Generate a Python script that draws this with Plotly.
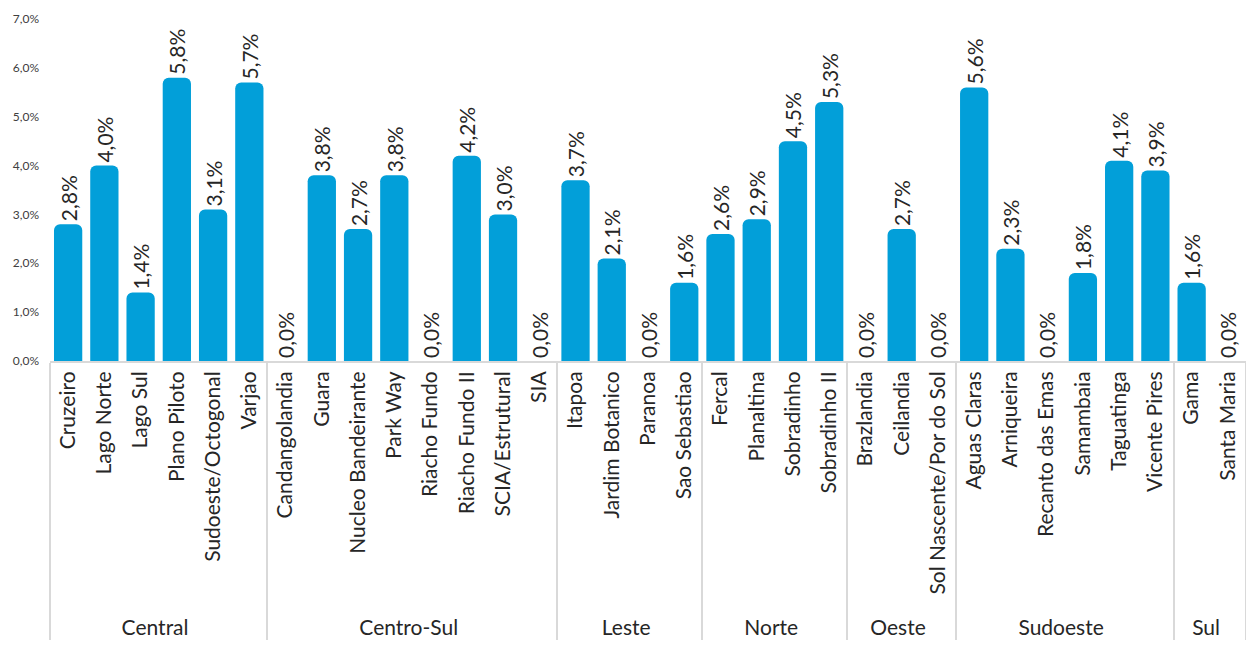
import plotly.graph_objects as go

regions = ["Central"] * 6 + ["Centro-Sul"] * 8 + ["Leste"] * 4 + ["Norte"] * 4 + \
          ["Oeste"] * 3 + ["Sudoeste"] * 6 + ["Sul"] * 2
districts = [
    "Cruzeiro", "Lago Norte", "Lago Sul", "Plano Piloto", "Sudoeste/Octogonal", "Varjao",
    "Candangolandia", "Guara", "Nucleo Bandeirante", "Park Way", "Riacho Fundo",
    "Riacho Fundo II", "SCIA/Estrutural", "SIA",
    "Itapoa", "Jardim Botanico", "Paranoa", "Sao Sebastiao",
    "Fercal", "Planaltina", "Sobradinho", "Sobradinho II",
    "Brazlandia", "Ceilandia", "Sol Nascente/Por do Sol",
    "Aguas Claras", "Arniqueira", "Recanto das Emas", "Samambaia", "Taguatinga", "Vicente Pires",
    "Gama", "Santa Maria",
]
shares = [
    2.8, 4.0, 1.4, 5.8, 3.1, 5.7,
    0.0, 3.8, 2.7, 3.8, 0.0, 4.2, 3.0, 0.0,
    3.7, 2.1, 0.0, 1.6,
    2.6, 2.9, 4.5, 5.3,
    0.0, 2.7, 0.0,
    5.6, 2.3, 0.0, 1.8, 4.1, 3.9,
    1.6, 0.0,
]
y_ticks = [0, 1, 2, 3, 4, 5, 6, 7]

values = [v / 100 for v in shares]

fig = go.Figure(go.Bar(
    x=[regions, districts],
    y=values,
    marker=dict(color="#029fd9", cornerradius=6, line=dict(width=0)),
    texttemplate="%{y:.1%}",
    textposition="outside",
    textangle=-90,
    constraintext="none",
    textfont=dict(family="Lato", size=21, color="#262626"),
    cliponaxis=False,
))

fig.update_layout(
    width=1246, height=648,
    margin=dict(l=50, r=0, t=19, b=287, autoexpand=False),
    plot_bgcolor="white", paper_bgcolor="white",
    separators=",.",
    bargap=0.22,
    showlegend=False,
    font=dict(family="Lato", color="#262626"),
)
fig.update_xaxes(
    type="multicategory",
    tickangle=-90,
    tickfont=dict(family="Lato", size=21, color="#262626"),
    showline=True, linecolor="#d9d9d9", linewidth=2,
    showdividers=True, dividercolor="#d9d9d9", dividerwidth=2,
    ticks="", showgrid=False, automargin=False,
)
fig.update_yaxes(
    range=[0, 0.07],
    tickvals=[t / 100 for t in y_ticks],
    tickformat=".1%",
    tickfont=dict(family="Lato", size=12, color="#404040"),
    ticklabelstandoff=10,
    showgrid=False, zeroline=False, showline=False, automargin=False,
)

fig.write_html("out.html")
